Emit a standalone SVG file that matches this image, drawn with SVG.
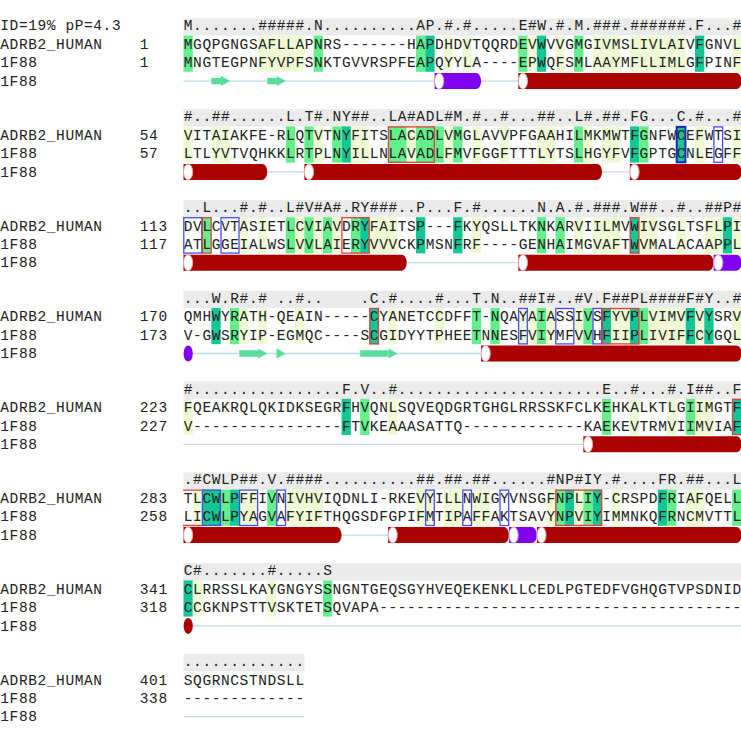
<svg xmlns="http://www.w3.org/2000/svg" width="741" height="743" viewBox="0 0 741 743" xml:space="preserve">
<style>
.t{font-family:"Liberation Mono","DejaVu Sans Mono",monospace;font-size:14.5px;letter-spacing:0.6px;fill:#222;white-space:pre}
.band{fill:#ebebeb}
.P{fill:#eff9d3}.M{fill:#62ef8c}.D{fill:#10c795}
.bb{fill:none;stroke:#4a4af0;stroke-width:1.3}
.br{fill:none;stroke:#e04040;stroke-width:1.3}
.bn{fill:none;stroke:#1a2ab0;stroke-width:2}
.coil{stroke:#bcdde6;stroke-width:1.3}
.hx{fill:#aa0000}.px{fill:#8000ee}
.cap{fill:#fff;stroke:#e9a6a6;stroke-width:1}.pcap{fill:#fff;stroke:#c7a0f0;stroke-width:1}
.st{fill:#55de9e}
</style>
<rect width="741" height="743" fill="#fff"/>

<g id="block1" transform="translate(0,18.3)">
<rect class="band" x="183.5" y="0" width="558" height="17.3"/>
<g id="hl1">
<rect class="M" x="183.5" y="17.3" width="9.3" height="36.2"/>
<rect class="P" x="257.9" y="17.3" width="46.5" height="36.2"/>
<rect class="M" x="313.7" y="17.3" width="9.3" height="36.2"/>
<rect class="M" x="416" y="17.3" width="9.3" height="36.2"/>
<rect class="D" x="425.3" y="17.3" width="9.3" height="36.2"/>
<rect class="P" x="443.9" y="17.3" width="9.3" height="36.2"/>
<rect class="P" x="462.5" y="17.3" width="9.3" height="36.2"/>
<rect class="M" x="518.3" y="17.3" width="9.3" height="36.2"/>
<rect class="P" x="527.6" y="17.3" width="9.3" height="36.2"/>
<rect class="D" x="536.9" y="17.3" width="9.3" height="36.2"/>
<rect class="P" x="555.5" y="17.3" width="9.3" height="36.2"/>
<rect class="M" x="574.1" y="17.3" width="9.3" height="36.2"/>
<rect class="P" x="592.7" y="17.3" width="27.9" height="36.2"/>
<rect class="P" x="629.9" y="17.3" width="55.8" height="36.2"/>
<rect class="D" x="695" y="17.3" width="9.3" height="36.2"/>
<rect class="P" x="732.2" y="17.3" width="9.3" height="36.2"/>
</g>
<g id="ss1">
<line class="coil" x1="183.5" y1="62.8" x2="741.5" y2="62.8"/>
<rect class="st" x="211.4" y="59.6" width="9.6" height="6.4"/><polygon class="st" points="221,57.8 230,62.8 221,67.8"/>
<rect class="st" x="267.2" y="59.6" width="9.6" height="6.4"/><polygon class="st" points="276.8,57.8 285.8,62.8 276.8,67.8"/>
<path class="px" d="M434.6,54.8H476.1A5,8 0 0 1 476.1,70.8H434.6Z"/><ellipse class="pcap" cx="439.2" cy="62.8" rx="4.6" ry="8"/>
<path class="hx" d="M518.3,54.8H736.5A5,8 0 0 1 736.5,70.8H518.3Z"/><ellipse class="cap" cx="522.9" cy="62.8" rx="4.6" ry="8"/>
</g>
<text class="t" x="0.3" y="12.2">ID=19% pP=4.3</text>
<text class="t" x="183.8" y="12.2">M.......#####.N..........AP.#.#.....E#W.#.M.###.######.F...#</text>
<text class="t" x="0.3" y="30.7">ADRB2_HUMAN</text><text class="t" x="139.8" y="30.7">1</text>
<text class="t" x="183.8" y="30.7">MGQPGNGSAFLLAPNRS-------HAPDHDVTQQRDEVWVVGMGIVMSLIVLAIVFGNVL</text>
<text class="t" x="0.3" y="49.2">1F88</text><text class="t" x="139.8" y="49.2">1</text>
<text class="t" x="183.8" y="49.2">MNGTEGPNFYVPFSNKTGVVRSPFEAPQYYLA----EPWQFSMLAAYMFLLIMLGFPINF</text>
<text class="t" x="0.3" y="67.5">1F88</text>
</g>

<g id="block2" transform="translate(0,109.1)">
<rect class="band" x="183.5" y="0" width="558" height="17.3"/>
<g id="hl2">
<rect class="P" x="183.5" y="17.3" width="9.3" height="36.2"/>
<rect class="P" x="211.4" y="17.3" width="18.6" height="36.2"/>
<rect class="M" x="285.8" y="17.3" width="9.3" height="36.2"/>
<rect class="M" x="304.4" y="17.3" width="9.3" height="36.2"/>
<rect class="P" x="313.7" y="17.3" width="9.3" height="36.2"/>
<rect class="M" x="332.3" y="17.3" width="9.3" height="36.2"/>
<rect class="D" x="341.6" y="17.3" width="9.3" height="36.2"/>
<rect class="P" x="350.9" y="17.3" width="18.6" height="36.2"/>
<rect class="M" x="388.1" y="17.3" width="18.6" height="36.2"/>
<rect class="P" x="406.7" y="17.3" width="9.3" height="36.2"/>
<rect class="M" x="416" y="17.3" width="27.9" height="36.2"/>
<rect class="P" x="443.9" y="17.3" width="9.3" height="36.2"/>
<rect class="M" x="453.2" y="17.3" width="9.3" height="36.2"/>
<rect class="P" x="471.8" y="17.3" width="9.3" height="36.2"/>
<rect class="P" x="499.7" y="17.3" width="9.3" height="36.2"/>
<rect class="P" x="536.9" y="17.3" width="18.6" height="36.2"/>
<rect class="M" x="574.1" y="17.3" width="9.3" height="36.2"/>
<rect class="P" x="583.4" y="17.3" width="9.3" height="36.2"/>
<rect class="P" x="602" y="17.3" width="18.6" height="36.2"/>
<rect class="D" x="629.9" y="17.3" width="9.3" height="36.2"/>
<rect class="M" x="639.2" y="17.3" width="9.3" height="36.2"/>
<rect class="D" x="676.4" y="17.3" width="9.3" height="36.2"/>
<rect class="P" x="695" y="17.3" width="9.3" height="36.2"/>
<rect class="P" x="732.2" y="17.3" width="9.3" height="36.2"/>
</g>
<g id="ss2">
<line class="coil" x1="183.5" y1="62.8" x2="741.5" y2="62.8"/>
<path class="hx" d="M183.5,54.8H262.2A5,8 0 0 1 262.2,70.8H183.5Z"/><ellipse class="cap" cx="188.1" cy="62.8" rx="4.6" ry="8"/>
<path class="hx" d="M304.4,54.8H597A5,8 0 0 1 597,70.8H304.4Z"/><ellipse class="cap" cx="309" cy="62.8" rx="4.6" ry="8"/>
<path class="hx" d="M629.9,54.8H736.5A5,8 0 0 1 736.5,70.8H629.9Z"/><ellipse class="cap" cx="634.5" cy="62.8" rx="4.6" ry="8"/>
</g>
<text class="t" x="183.8" y="12.2">#..##......L.T#.NY##..LA#ADL#M.#..#...##..L#.##.FG...C.#...#</text>
<text class="t" x="0.3" y="30.7">ADRB2_HUMAN</text><text class="t" x="139.8" y="30.7">54</text>
<text class="t" x="183.8" y="30.7">VITAIAKFE-RLQTVTNYFITSLACADLVMGLAVVPFGAAHILMKMWTFGNFWCEFWTSI</text>
<text class="t" x="0.3" y="49.2">1F88</text><text class="t" x="139.8" y="49.2">57</text>
<text class="t" x="183.8" y="49.2">LTLYVTVQHKKLRTPLNYILLNLAVADLFMVFGGFTTTLYTSLHGYFVFGPTGCNLEGFF</text>
<text class="t" x="0.3" y="67.5">1F88</text>
<g id="box2">
<rect class="br" x="388.4" y="17.8" width="45.9" height="35.4"/>
<rect class="bn" x="676.7" y="17.8" width="8.7" height="35.4"/>
<rect class="bb" x="713.9" y="17.8" width="8.7" height="35.4"/>
</g>
</g>

<g id="block3" transform="translate(0,199.9)">
<rect class="band" x="183.5" y="0" width="558" height="17.3"/>
<g id="hl3">
<rect class="M" x="202.1" y="17.3" width="9.3" height="36.2"/>
<rect class="P" x="239.3" y="17.3" width="9.3" height="36.2"/>
<rect class="P" x="257.9" y="17.3" width="9.3" height="36.2"/>
<rect class="M" x="285.8" y="17.3" width="9.3" height="36.2"/>
<rect class="P" x="295.1" y="17.3" width="9.3" height="36.2"/>
<rect class="M" x="304.4" y="17.3" width="9.3" height="36.2"/>
<rect class="P" x="313.7" y="17.3" width="9.3" height="36.2"/>
<rect class="M" x="323" y="17.3" width="9.3" height="36.2"/>
<rect class="P" x="332.3" y="17.3" width="9.3" height="36.2"/>
<rect class="M" x="350.9" y="17.3" width="9.3" height="36.2"/>
<rect class="D" x="360.2" y="17.3" width="9.3" height="36.2"/>
<rect class="P" x="369.5" y="17.3" width="27.9" height="36.2"/>
<rect class="D" x="416" y="17.3" width="9.3" height="36.2"/>
<rect class="D" x="453.2" y="17.3" width="9.3" height="36.2"/>
<rect class="P" x="471.8" y="17.3" width="9.3" height="36.2"/>
<rect class="M" x="536.9" y="17.3" width="9.3" height="36.2"/>
<rect class="M" x="555.5" y="17.3" width="9.3" height="36.2"/>
<rect class="P" x="574.1" y="17.3" width="9.3" height="36.2"/>
<rect class="P" x="592.7" y="17.3" width="27.9" height="36.2"/>
<rect class="D" x="629.9" y="17.3" width="9.3" height="36.2"/>
<rect class="P" x="639.2" y="17.3" width="18.6" height="36.2"/>
<rect class="P" x="676.4" y="17.3" width="9.3" height="36.2"/>
<rect class="P" x="704.3" y="17.3" width="18.6" height="36.2"/>
<rect class="D" x="722.9" y="17.3" width="9.3" height="36.2"/>
<rect class="P" x="732.2" y="17.3" width="9.3" height="36.2"/>
</g>
<g id="ss3">
<line class="coil" x1="183.5" y1="62.8" x2="741.5" y2="62.8"/>
<path class="hx" d="M183.5,54.8H401.7A5,8 0 0 1 401.7,70.8H183.5Z"/><ellipse class="cap" cx="188.1" cy="62.8" rx="4.6" ry="8"/>
<path class="hx" d="M518.3,54.8H708.6A5,8 0 0 1 708.6,70.8H518.3Z"/><ellipse class="cap" cx="522.9" cy="62.8" rx="4.6" ry="8"/>
<path class="px" d="M713.6,54.8H736.5A5,8 0 0 1 736.5,70.8H713.6Z"/><ellipse class="pcap" cx="718.2" cy="62.8" rx="4.6" ry="8"/>
</g>
<text class="t" x="183.8" y="12.2">..L...#.#..L#V#A#.RY###..P...F.#......N.A.#.###.W##..#..##P#</text>
<text class="t" x="0.3" y="30.7">ADRB2_HUMAN</text><text class="t" x="139.8" y="30.7">113</text>
<text class="t" x="183.8" y="30.7">DVLCVTASIETLCVIAVDRYFAITSP---FKYQSLLTKNKARVIILMVWIVSGLTSFLPI</text>
<text class="t" x="0.3" y="49.2">1F88</text><text class="t" x="139.8" y="49.2">117</text>
<text class="t" x="183.8" y="49.2">ATLGGEIALWSLVVLAIERYVVVCKPMSNFRF----GENHAIMGVAFTWVMALACAAPPL</text>
<text class="t" x="0.3" y="67.5">1F88</text>
<g id="box3">
<rect class="bb" x="183.8" y="17.8" width="18" height="35.4"/>
<rect class="br" x="202.4" y="17.8" width="8.7" height="35.4"/>
<rect class="bb" x="221" y="17.8" width="18" height="35.4"/>
<rect class="br" x="341.9" y="17.8" width="27.3" height="35.4"/>
<rect class="br" x="630.2" y="17.8" width="8.7" height="35.4"/>
</g>
</g>

<g id="block4" transform="translate(0,290.7)">
<rect class="band" x="183.5" y="0" width="558" height="17.3"/>
<g id="hl4">
<rect class="D" x="211.4" y="17.3" width="9.3" height="36.2"/>
<rect class="M" x="230" y="17.3" width="9.3" height="36.2"/>
<rect class="P" x="239.3" y="17.3" width="9.3" height="36.2"/>
<rect class="P" x="257.9" y="17.3" width="9.3" height="36.2"/>
<rect class="P" x="295.1" y="17.3" width="9.3" height="36.2"/>
<rect class="D" x="369.5" y="17.3" width="9.3" height="36.2"/>
<rect class="P" x="388.1" y="17.3" width="9.3" height="36.2"/>
<rect class="P" x="434.6" y="17.3" width="9.3" height="36.2"/>
<rect class="M" x="471.8" y="17.3" width="9.3" height="36.2"/>
<rect class="M" x="490.4" y="17.3" width="9.3" height="36.2"/>
<rect class="P" x="518.3" y="17.3" width="18.6" height="36.2"/>
<rect class="M" x="536.9" y="17.3" width="9.3" height="36.2"/>
<rect class="P" x="546.2" y="17.3" width="9.3" height="36.2"/>
<rect class="P" x="574.1" y="17.3" width="9.3" height="36.2"/>
<rect class="M" x="583.4" y="17.3" width="9.3" height="36.2"/>
<rect class="D" x="602" y="17.3" width="9.3" height="36.2"/>
<rect class="P" x="611.3" y="17.3" width="18.6" height="36.2"/>
<rect class="D" x="629.9" y="17.3" width="9.3" height="36.2"/>
<rect class="M" x="639.2" y="17.3" width="9.3" height="36.2"/>
<rect class="P" x="648.5" y="17.3" width="37.2" height="36.2"/>
<rect class="D" x="685.7" y="17.3" width="9.3" height="36.2"/>
<rect class="P" x="695" y="17.3" width="9.3" height="36.2"/>
<rect class="D" x="704.3" y="17.3" width="9.3" height="36.2"/>
<rect class="P" x="732.2" y="17.3" width="9.3" height="36.2"/>
</g>
<g id="ss4">
<line class="coil" x1="183.5" y1="62.8" x2="741.5" y2="62.8"/>
<ellipse class="px" cx="188.2" cy="62.8" rx="4.6" ry="8"/>
<rect class="st" x="239.3" y="59.6" width="18.9" height="6.4"/><polygon class="st" points="258.2,57.8 267.2,62.8 258.2,67.8"/>
<polygon class="st" points="276.5,57.8 285.8,62.8 276.5,67.8"/>
<rect class="st" x="360.2" y="59.6" width="28.2" height="6.4"/><polygon class="st" points="388.4,57.8 397.4,62.8 388.4,67.8"/>
<path class="hx" d="M481.1,54.8H736.5A5,8 0 0 1 736.5,70.8H481.1Z"/><ellipse class="cap" cx="485.7" cy="62.8" rx="4.6" ry="8"/>
</g>
<text class="t" x="183.8" y="12.2">...W.R#.# ..#..    .C.#....#...T.N..##I#..#V.F##PL####F#Y..#</text>
<text class="t" x="0.3" y="30.7">ADRB2_HUMAN</text><text class="t" x="139.8" y="30.7">170</text>
<text class="t" x="183.8" y="30.7">QMHWYRATH-QEAIN-----CYANETCCDFFT-NQAYAIASSIVSFYVPLVIMVFVYSRV</text>
<text class="t" x="0.3" y="49.2">1F88</text><text class="t" x="139.8" y="49.2">173</text>
<text class="t" x="183.8" y="49.2">V-GWSRYIP-EGMQC----SCGIDYYTPHEETNNESFVIYMFVVHFIIPLIVIFFCYGQL</text>
<text class="t" x="0.3" y="67.5">1F88</text>
<g id="box4">
<rect class="br" x="369.8" y="17.8" width="8.7" height="35.4"/>
<rect class="bb" x="518.6" y="17.8" width="8.7" height="35.4"/>
<rect class="bb" x="555.8" y="17.8" width="18" height="35.4"/>
<rect class="bb" x="593" y="17.8" width="8.7" height="35.4"/>
<rect class="br" x="602.3" y="17.8" width="36.6" height="35.4"/>
</g>
</g>

<g id="block5" transform="translate(0,381.5)">
<rect class="band" x="183.5" y="0" width="558" height="17.3"/>
<g id="hl5">
<rect class="P" x="183.5" y="17.3" width="9.3" height="36.2"/>
<rect class="D" x="341.6" y="17.3" width="9.3" height="36.2"/>
<rect class="M" x="360.2" y="17.3" width="9.3" height="36.2"/>
<rect class="P" x="388.1" y="17.3" width="9.3" height="36.2"/>
<rect class="M" x="602" y="17.3" width="9.3" height="36.2"/>
<rect class="P" x="629.9" y="17.3" width="9.3" height="36.2"/>
<rect class="P" x="667.1" y="17.3" width="9.3" height="36.2"/>
<rect class="M" x="685.7" y="17.3" width="9.3" height="36.2"/>
<rect class="P" x="695" y="17.3" width="18.6" height="36.2"/>
<rect class="D" x="732.2" y="17.3" width="9.3" height="36.2"/>
</g>
<g id="ss5">
<line class="coil" x1="183.5" y1="62.8" x2="741.5" y2="62.8"/>
<path class="hx" d="M583.4,54.8H736.5A5,8 0 0 1 736.5,70.8H583.4Z"/><ellipse class="cap" cx="588" cy="62.8" rx="4.6" ry="8"/>
</g>
<text class="t" x="183.8" y="12.2">#................F.V..#......................E..#...#.I##..F</text>
<text class="t" x="0.3" y="30.7">ADRB2_HUMAN</text><text class="t" x="139.8" y="30.7">223</text>
<text class="t" x="183.8" y="30.7">FQEAKRQLQKIDKSEGRFHVQNLSQVEQDGRTGHGLRRSSKFCLKEHKALKTLGIIMGTF</text>
<text class="t" x="0.3" y="49.2">1F88</text><text class="t" x="139.8" y="49.2">227</text>
<text class="t" x="183.8" y="49.2">V----------------FTVKEAAASATTQ-------------KAEKEVTRMVIIMVIAF</text>
<text class="t" x="0.3" y="67.5">1F88</text>
<path class="br" d="M742,17.8H732.5V53.2H742"/>
</g>

<g id="block6" transform="translate(0,472.3)">
<rect class="band" x="183.5" y="0" width="558" height="17.3"/>
<g id="hl6">
<rect class="P" x="192.8" y="17.3" width="9.3" height="36.2"/>
<rect class="D" x="202.1" y="17.3" width="18.6" height="36.2"/>
<rect class="M" x="220.7" y="17.3" width="9.3" height="36.2"/>
<rect class="D" x="230" y="17.3" width="9.3" height="36.2"/>
<rect class="P" x="239.3" y="17.3" width="18.6" height="36.2"/>
<rect class="M" x="267.2" y="17.3" width="9.3" height="36.2"/>
<rect class="P" x="285.8" y="17.3" width="37.2" height="36.2"/>
<rect class="P" x="416" y="17.3" width="18.6" height="36.2"/>
<rect class="P" x="443.9" y="17.3" width="18.6" height="36.2"/>
<rect class="P" x="471.8" y="17.3" width="18.6" height="36.2"/>
<rect class="P" x="546.2" y="17.3" width="9.3" height="36.2"/>
<rect class="M" x="555.5" y="17.3" width="9.3" height="36.2"/>
<rect class="D" x="564.8" y="17.3" width="9.3" height="36.2"/>
<rect class="P" x="574.1" y="17.3" width="9.3" height="36.2"/>
<rect class="M" x="583.4" y="17.3" width="9.3" height="36.2"/>
<rect class="D" x="592.7" y="17.3" width="9.3" height="36.2"/>
<rect class="P" x="611.3" y="17.3" width="9.3" height="36.2"/>
<rect class="D" x="657.8" y="17.3" width="9.3" height="36.2"/>
<rect class="M" x="667.1" y="17.3" width="9.3" height="36.2"/>
<rect class="P" x="685.7" y="17.3" width="18.6" height="36.2"/>
<rect class="M" x="732.2" y="17.3" width="9.3" height="36.2"/>
</g>
<g id="ss6">
<line class="coil" x1="183.5" y1="62.8" x2="741.5" y2="62.8"/>
<path class="hx" d="M183.5,54.8H336.6A5,8 0 0 1 336.6,70.8H183.5Z"/><ellipse class="cap" cx="188.1" cy="62.8" rx="4.6" ry="8"/>
<path class="hx" d="M388.1,54.8H504A5,8 0 0 1 504,70.8H388.1Z"/><ellipse class="cap" cx="392.7" cy="62.8" rx="4.6" ry="8"/>
<path class="px" d="M509,54.8H531.9A5,8 0 0 1 531.9,70.8H509Z"/><ellipse class="pcap" cx="513.6" cy="62.8" rx="4.6" ry="8"/>
<path class="hx" d="M536.9,54.8H736.5A5,8 0 0 1 736.5,70.8H536.9Z"/><ellipse class="cap" cx="541.5" cy="62.8" rx="4.6" ry="8"/>
</g>
<text class="t" x="183.8" y="12.2">.#CWLP##.V.####..........##.##.##......#NP#IY.#....FR.##...L</text>
<text class="t" x="0.3" y="30.7">ADRB2_HUMAN</text><text class="t" x="139.8" y="30.7">283</text>
<text class="t" x="183.8" y="30.7">TLCWLPFFIVNIVHVIQDNLI-RKEVYILLNWIGYVNSGFNPLIY-CRSPDFRIAFQELL</text>
<text class="t" x="0.3" y="49.2">1F88</text><text class="t" x="139.8" y="49.2">258</text>
<text class="t" x="183.8" y="49.2">LICWLPYAGVAFYIFTHQGSDFGPIFMTIPAFFAKTSAVYNPVIYIMMNKQFRNCMVTTL</text>
<text class="t" x="0.3" y="67.5">1F88</text>
<g id="box6">
<path class="br" d="M183,17.8H201.8M183,53.2H201.8"/>
<rect class="bb" x="202.4" y="17.8" width="18" height="35.4"/>
<rect class="bb" x="239.6" y="17.8" width="18" height="35.4"/>
<rect class="bb" x="276.8" y="17.8" width="8.7" height="35.4"/>
<rect class="bb" x="425.6" y="17.8" width="8.7" height="35.4"/>
<rect class="bb" x="462.8" y="17.8" width="8.7" height="35.4"/>
<rect class="bb" x="500" y="17.8" width="8.7" height="35.4"/>
<rect class="br" x="555.8" y="17.8" width="45.9" height="35.4"/>
</g>
</g>

<g id="block7" transform="translate(0,563.1)">
<rect class="band" x="183.5" y="0" width="558" height="17.3"/>
<g id="hl7">
<rect class="D" x="183.5" y="17.3" width="9.3" height="36.2"/>
<rect class="P" x="192.8" y="17.3" width="9.3" height="36.2"/>
<rect class="P" x="267.2" y="17.3" width="9.3" height="36.2"/>
<rect class="M" x="323" y="17.3" width="9.3" height="36.2"/>
</g>
<g id="ss7">
<line class="coil" x1="183.5" y1="62.8" x2="741.5" y2="62.8"/>
<ellipse class="hx" cx="188.2" cy="62.8" rx="4.6" ry="8"/>
</g>
<text class="t" x="183.8" y="12.2">C#.......#.....S</text>
<text class="t" x="0.3" y="30.7">ADRB2_HUMAN</text><text class="t" x="139.8" y="30.7">341</text>
<text class="t" x="183.8" y="30.7">CLRRSSLKAYGNGYSSNGNTGEQSGYHVEQEKENKLLCEDLPGTEDFVGHQGTVPSDNID</text>
<text class="t" x="0.3" y="49.2">1F88</text><text class="t" x="139.8" y="49.2">318</text>
<text class="t" x="183.8" y="49.2">CCGKNPSTTVSKTETSQVAPA---------------------------------------</text>
<text class="t" x="0.3" y="67.5">1F88</text>
</g>

<g id="block8" transform="translate(0,653.9)">
<rect class="band" x="183.5" y="0" width="120.9" height="17.3"/>
<line class="coil" x1="183.5" y1="62.8" x2="304.4" y2="62.8"/>
<text class="t" x="183.8" y="12.2">.............</text>
<text class="t" x="0.3" y="30.7">ADRB2_HUMAN</text><text class="t" x="139.8" y="30.7">401</text>
<text class="t" x="183.8" y="30.7">SQGRNCSTNDSLL</text>
<text class="t" x="0.3" y="49.2">1F88</text><text class="t" x="139.8" y="49.2">338</text>
<text class="t" x="183.8" y="49.2">-------------</text>
<text class="t" x="0.3" y="67.5">1F88</text>
</g>
</svg>
